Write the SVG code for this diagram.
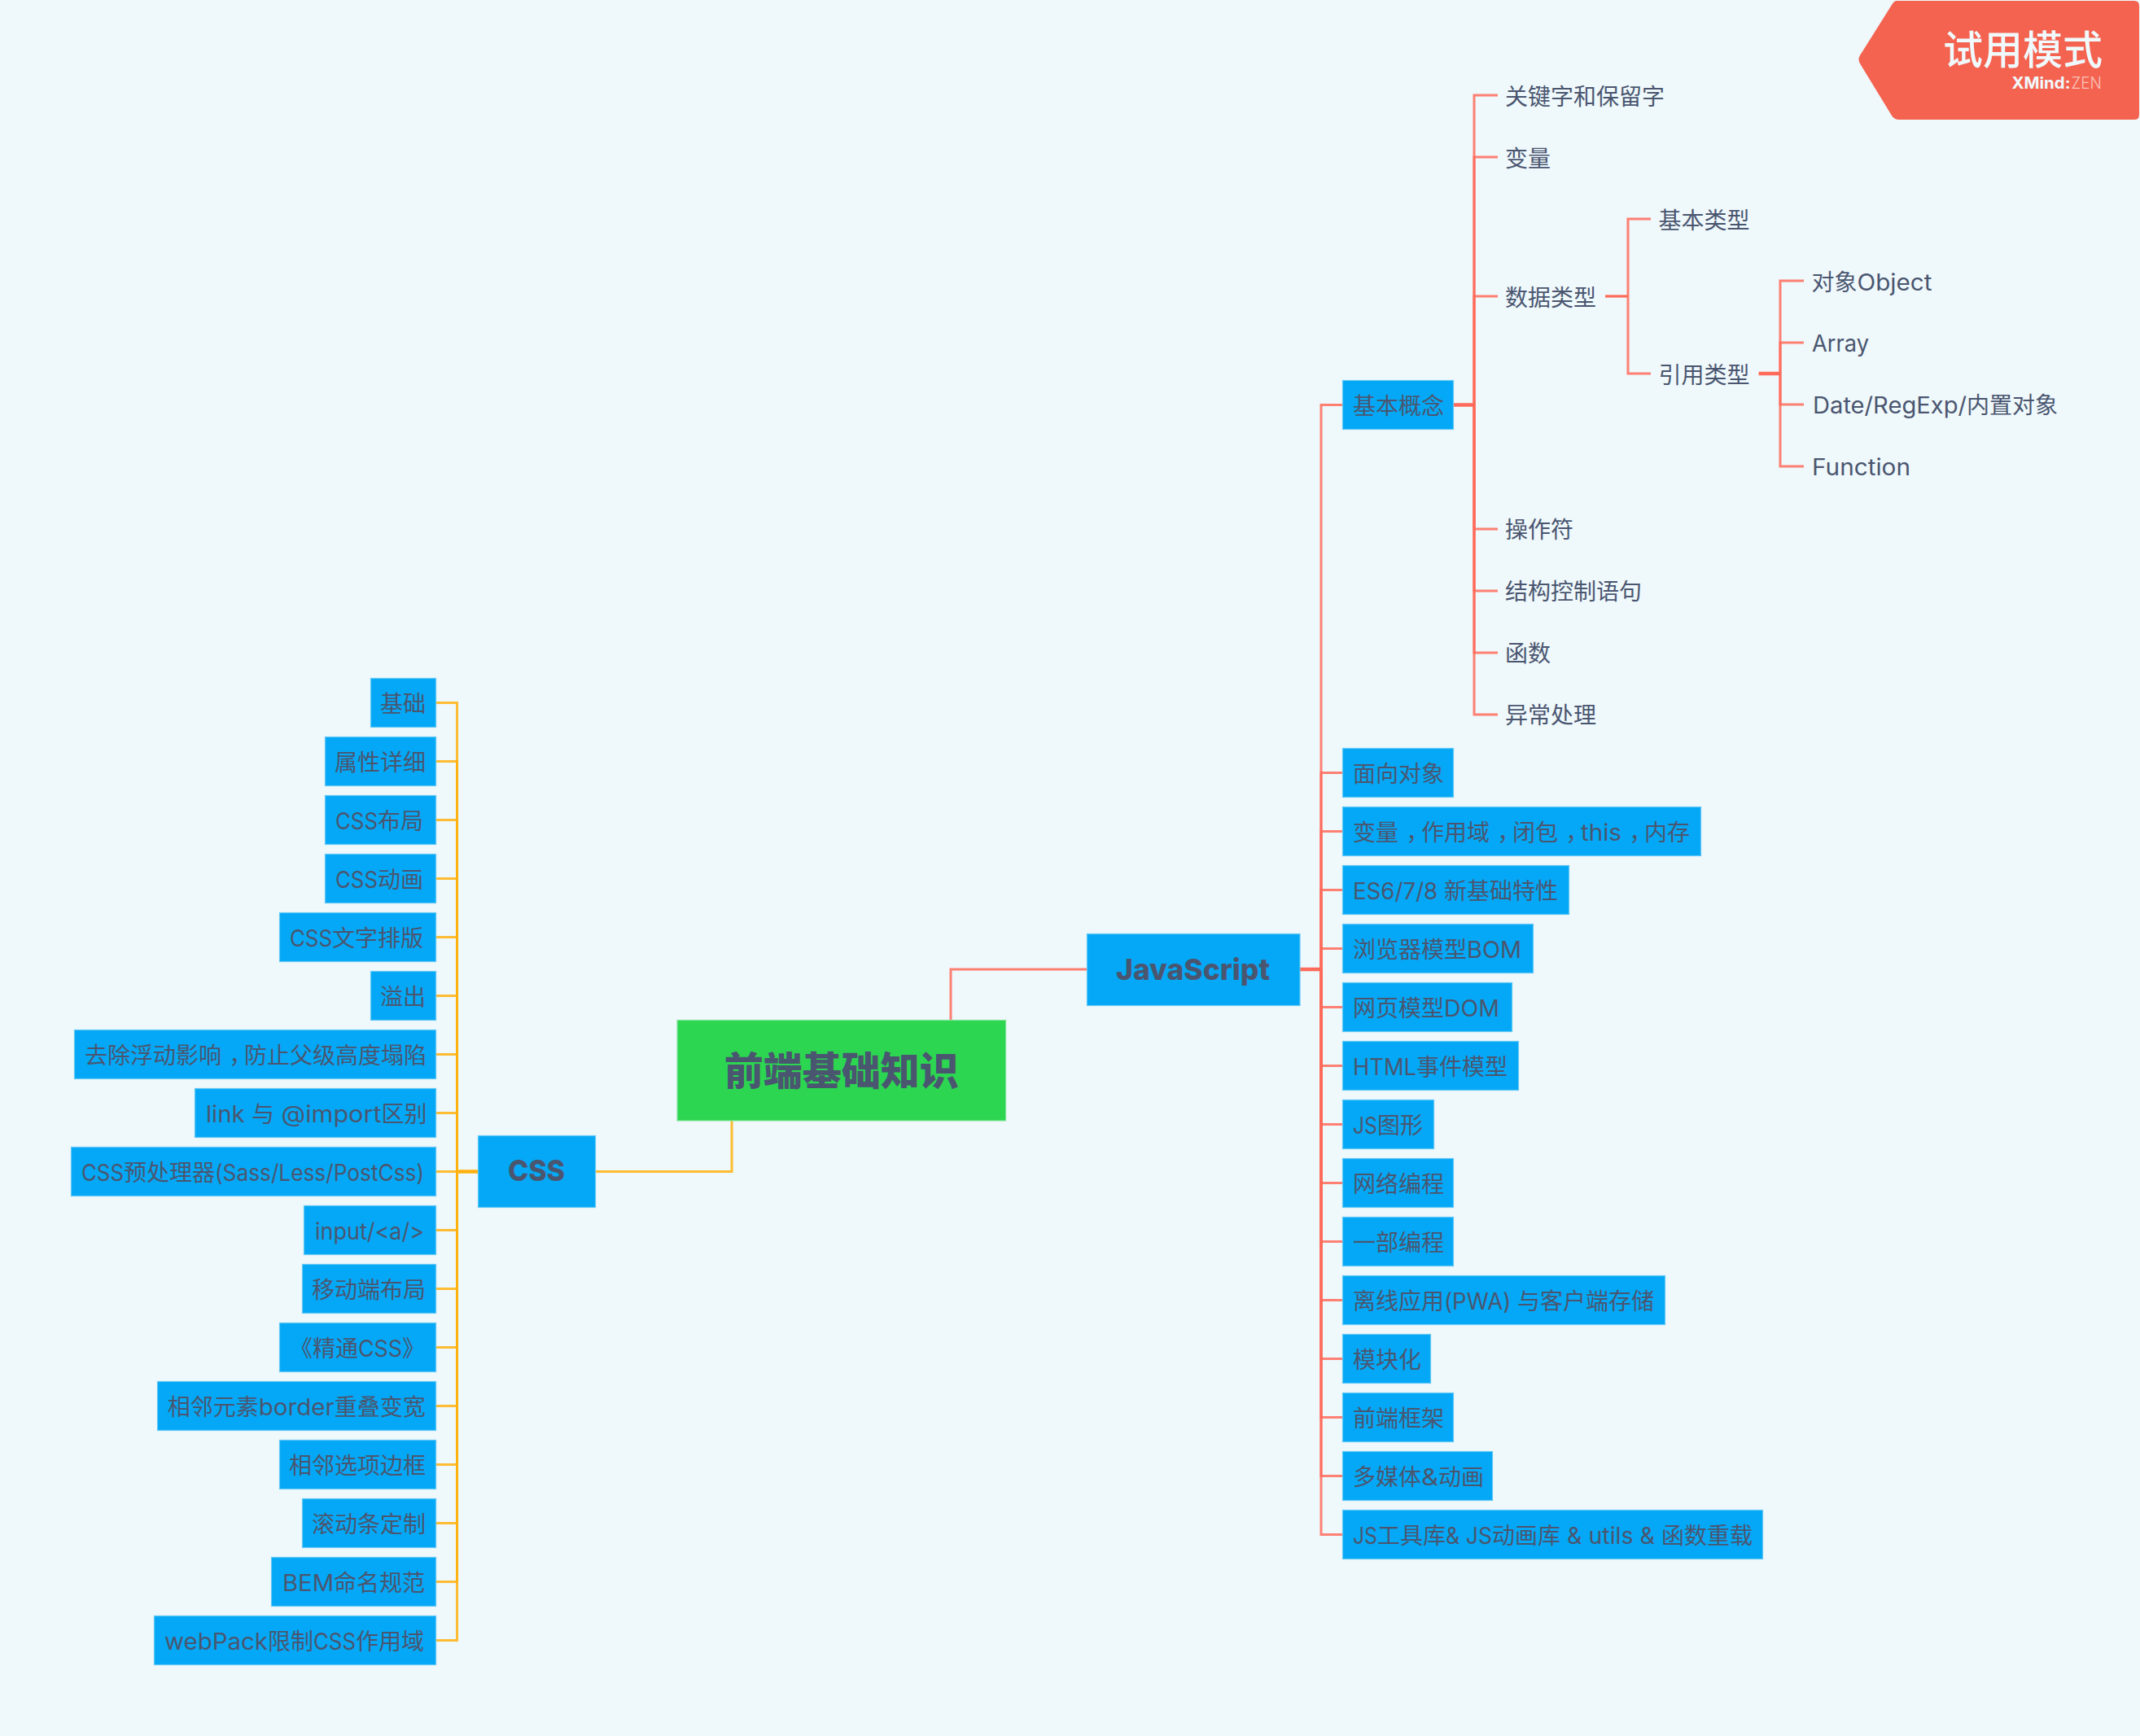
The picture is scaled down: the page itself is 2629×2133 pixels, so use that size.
<svg xmlns="http://www.w3.org/2000/svg" width="2629" height="2133" viewBox="0 0 2629 2133">
<style>
text{font-family:"Inter","Noto Sans CJK SC",sans-serif;font-size:28px;fill:#4a5670}
.e{text-anchor:end}
.p{font-feature-settings:"palt"}
.b{fill:#05a8f6;stroke:#62c8f6;stroke-width:1.2}
.r{fill:#2cd651;stroke:#84e49a;stroke-width:1.2}
.t{font-weight:800;font-size:36px}
.c{fill:none;stroke-width:3;stroke-opacity:.85}
.j{stroke:#ff6b5b}
.y{stroke:#ffb20f}
.k{fill:none;stroke-width:4.5}
.m{fill:none;stroke-width:3.2}
</style>
<rect width="2629" height="2133" fill="#eff8fb"/>
<g id="connectors">
<path class="c j" d="M1168 1253V1191H1335"/>
<path class="c y" d="M899 1377V1439.5H731.5"/>
<path class="k j" d="M1597 1191H1623"/>
<path class="k y" d="M587 1439.5H561.5"/>
<path class="k j" d="M1785.6 497.5H1811"/>
<path class="m j" d="M1972 364H2000"/>
<path class="k j" d="M2160.6 459H2187"/>
<g class="c j">
<path d="M1623 1191V497.5H1650"/>
<path d="M1623 1191V949.5H1649.4"/>
<path d="M1623 1191V1021.5H1649.4"/>
<path d="M1623 1191V1093.5H1649.4"/>
<path d="M1623 1191V1165.5H1649.4"/>
<path d="M1623 1191V1237.5H1649.4"/>
<path d="M1623 1191V1309.5H1649.4"/>
<path d="M1623 1191V1381.5H1649.4"/>
<path d="M1623 1191V1453.5H1649.4"/>
<path d="M1623 1191V1525.5H1649.4"/>
<path d="M1623 1191V1597.5H1649.4"/>
<path d="M1623 1191V1669.5H1649.4"/>
<path d="M1623 1191V1741.5H1649.4"/>
<path d="M1623 1191V1813.5H1649.4"/>
<path d="M1623 1191V1885.5H1649.4"/>
<path d="M1811 497.5V117H1840"/>
<path d="M1811 497.5V193H1840"/>
<path d="M1811 497.5V364H1840"/>
<path d="M1811 497.5V650H1840"/>
<path d="M1811 497.5V726H1840"/>
<path d="M1811 497.5V802H1840"/>
<path d="M1811 497.5V878H1840"/>
<path d="M2000 364V269H2028"/>
<path d="M2000 364V459H2028"/>
<path d="M2187 459V345H2216"/>
<path d="M2187 459V421H2216"/>
<path d="M2187 459V497H2216"/>
<path d="M2187 459V573H2216"/>
</g>
<g class="c y">
<path d="M561.5 1439.5V863.5H535.7"/>
<path d="M561.5 1439.5V935.5H535.7"/>
<path d="M561.5 1439.5V1007.5H535.7"/>
<path d="M561.5 1439.5V1079.5H535.7"/>
<path d="M561.5 1439.5V1151.5H535.7"/>
<path d="M561.5 1439.5V1223.5H535.7"/>
<path d="M561.5 1439.5V1295.5H535.7"/>
<path d="M561.5 1439.5V1367.5H535.7"/>
<path d="M561.5 1439.5H535.7"/>
<path d="M561.5 1439.5V1511.5H535.7"/>
<path d="M561.5 1439.5V1583.5H535.7"/>
<path d="M561.5 1439.5V1655.5H535.7"/>
<path d="M561.5 1439.5V1727.5H535.7"/>
<path d="M561.5 1439.5V1799.5H535.7"/>
<path d="M561.5 1439.5V1871.5H535.7"/>
<path d="M561.5 1439.5V1943.5H535.7"/>
<path d="M561.5 1439.5V2015.5H535.7"/>
</g>
</g>
<g id="root"><rect class="r" x="832" y="1253.5" width="403.6" height="123.5"/><text x="1033.8" y="1333" text-anchor="middle" style="font-size:48px;font-weight:900">前端基础知识</text></g>
<g id="js"><rect class="b" x="1335.5" y="1147.5" width="261.5" height="88"/><text class="t" x="1371" y="1204" textLength="189" lengthAdjust="spacingAndGlyphs">JavaScript</text></g>
<g id="css"><rect class="b" x="587.5" y="1395.5" width="144" height="88"/><text class="t" x="624" y="1451" textLength="70" lengthAdjust="spacingAndGlyphs">CSS</text></g>

<g id="j0"><rect class="b" x="1649.5" y="467.5" width="136" height="60"/><text x="1662" y="509">基本概念</text></g>
<g id="j1"><rect class="b" x="1649.5" y="919.5" width="136" height="60"/><text x="1662" y="961">面向对象</text></g>
<g id="j2"><rect class="b" x="1649.5" y="991.5" width="440" height="60"/><text x="1662" y="1033">变量<tspan class="p" x="1729">，</tspan><tspan x="1746">作用域</tspan><tspan class="p" x="1841">，</tspan><tspan x="1858">闭包</tspan><tspan class="p" x="1925">，</tspan><tspan x="1942" textLength="50" lengthAdjust="spacingAndGlyphs">this</tspan><tspan class="p" x="2003">，</tspan><tspan x="2020">内存</tspan></text></g>
<g id="j3"><rect class="b" x="1649.5" y="1063.5" width="278" height="60"/><text x="1662" y="1105"><tspan textLength="112" lengthAdjust="spacingAndGlyphs">ES6/7/8 </tspan><tspan x="1774">新基础特性</tspan></text></g>
<g id="j4"><rect class="b" x="1649.5" y="1135.5" width="234" height="60"/><text x="1662" y="1177">浏览器模型<tspan textLength="67" lengthAdjust="spacingAndGlyphs">BOM</tspan></text></g>
<g id="j5"><rect class="b" x="1649.5" y="1207.5" width="208" height="60"/><text x="1662" y="1249">网页模型<tspan textLength="68" lengthAdjust="spacingAndGlyphs">DOM</tspan></text></g>
<g id="j6"><rect class="b" x="1649.5" y="1279.5" width="216" height="60"/><text x="1662" y="1321"><tspan textLength="78" lengthAdjust="spacingAndGlyphs">HTML</tspan><tspan x="1740">事件模型</tspan></text></g>
<g id="j7"><rect class="b" x="1649.5" y="1351.5" width="112" height="60"/><text x="1662" y="1393"><tspan textLength="30" lengthAdjust="spacingAndGlyphs">JS</tspan><tspan x="1692">图形</tspan></text></g>
<g id="j8"><rect class="b" x="1649.5" y="1423.5" width="136" height="60"/><text x="1662" y="1465">网络编程</text></g>
<g id="j9"><rect class="b" x="1649.5" y="1495.5" width="136" height="60"/><text x="1662" y="1537">一部编程</text></g>
<g id="j10"><rect class="b" x="1649.5" y="1567.5" width="396" height="60"/><text x="1662" y="1609">离线应用<tspan textLength="90" lengthAdjust="spacingAndGlyphs">(PWA) </tspan><tspan x="1864">与客户端存储</tspan></text></g>
<g id="j11"><rect class="b" x="1649.5" y="1639.5" width="108" height="60"/><text x="1662" y="1681">模块化</text></g>
<g id="j12"><rect class="b" x="1649.5" y="1711.5" width="136" height="60"/><text x="1662" y="1753">前端框架</text></g>
<g id="j13"><rect class="b" x="1649.5" y="1783.5" width="184" height="60"/><text x="1662" y="1825">多媒体<tspan textLength="21" lengthAdjust="spacingAndGlyphs">&amp;</tspan><tspan x="1767">动画</tspan></text></g>
<g id="j14"><rect class="b" x="1649.5" y="1855.5" width="516" height="60"/><text x="1662" y="1897"><tspan textLength="30" lengthAdjust="spacingAndGlyphs">JS</tspan><tspan x="1692">工具库</tspan><tspan x="1776" textLength="57" lengthAdjust="spacingAndGlyphs">&amp; JS</tspan><tspan x="1833">动画库</tspan><tspan x="1917" textLength="124" lengthAdjust="spacingAndGlyphs"> &amp; utils &amp; </tspan><tspan x="2041">函数重载</tspan></text></g>

<g id="s0"><text x="1849" y="129">关键字和保留字</text></g>
<g id="s1"><text x="1849" y="205">变量</text></g>
<g id="s2"><text x="1849" y="376">数据类型</text></g>
<g id="s3"><text x="1849" y="661">操作符</text></g>
<g id="s4"><text x="1849" y="737">结构控制语句</text></g>
<g id="s5"><text x="1849" y="813">函数</text></g>
<g id="s6"><text x="1849" y="889">异常处理</text></g>
<g id="s7"><text x="2037.5" y="281">基本类型</text></g>
<g id="s8"><text x="2037.5" y="471">引用类型</text></g>
<g id="s9"><text x="2225.5" y="357">对象<tspan textLength="92" lengthAdjust="spacingAndGlyphs">Object</tspan></text></g>
<g id="s10"><text x="2226" y="432" textLength="70" lengthAdjust="spacingAndGlyphs">Array</text></g>
<g id="s11"><text x="2227" y="508"><tspan textLength="189" lengthAdjust="spacingAndGlyphs">Date/RegExp/</tspan><tspan x="2416">内置对象</tspan></text></g>
<g id="s12"><text x="2226" y="584" textLength="121" lengthAdjust="spacingAndGlyphs">Function</text></g>

<g id="c0"><rect class="b" x="455.5" y="833.5" width="80" height="60"/><text class="e" x="523" y="875">基础</text></g>
<g id="c1"><rect class="b" x="399.5" y="905.5" width="136" height="60"/><text class="e" x="523" y="947">属性详细</text></g>
<g id="c2"><rect class="b" x="399.5" y="977.5" width="136" height="60"/><text x="412" y="1019"><tspan textLength="52" lengthAdjust="spacingAndGlyphs">CSS</tspan><tspan x="464">布局</tspan></text></g>
<g id="c3"><rect class="b" x="399.5" y="1049.5" width="136" height="60"/><text x="412" y="1091"><tspan textLength="52" lengthAdjust="spacingAndGlyphs">CSS</tspan><tspan x="464">动画</tspan></text></g>
<g id="c4"><rect class="b" x="343.5" y="1121.5" width="192" height="60"/><text x="356" y="1163"><tspan textLength="52" lengthAdjust="spacingAndGlyphs">CSS</tspan><tspan x="408">文字排版</tspan></text></g>
<g id="c5"><rect class="b" x="455.5" y="1193.5" width="80" height="60"/><text class="e" x="523" y="1235">溢出</text></g>
<g id="c6"><rect class="b" x="91.5" y="1265.5" width="444" height="60"/><text x="104" y="1307">去除浮动影响<tspan class="p" x="283">，</tspan><tspan x="300">防止父级高度塌陷</tspan></text></g>
<g id="c7"><rect class="b" x="239.5" y="1337.5" width="296" height="60"/><text x="253" y="1379"><tspan textLength="56" lengthAdjust="spacingAndGlyphs">link </tspan><tspan x="309">与</tspan><tspan x="337" textLength="131.5" lengthAdjust="spacingAndGlyphs"> @import</tspan><tspan x="468.5">区别</tspan></text></g>
<g id="c8"><rect class="b" x="87.5" y="1409.5" width="448" height="60"/><text x="100" y="1451"><tspan textLength="52" lengthAdjust="spacingAndGlyphs">CSS</tspan><tspan x="152">预处理器</tspan><tspan x="264" textLength="257" lengthAdjust="spacingAndGlyphs">(Sass/Less/PostCss)</tspan></text></g>
<g id="c9"><rect class="b" x="373.5" y="1481.5" width="162" height="60"/><text x="387" y="1523" textLength="134" lengthAdjust="spacingAndGlyphs">input/&lt;a/&gt;</text></g>
<g id="c10"><rect class="b" x="371.5" y="1553.5" width="164" height="60"/><text class="e" x="523" y="1595">移动端布局</text></g>
<g id="c11"><rect class="b" x="343.5" y="1625.5" width="192" height="60"/><text x="356" y="1667">《精通<tspan textLength="54" lengthAdjust="spacingAndGlyphs">CSS</tspan><tspan x="494">》</tspan></text></g>
<g id="c12"><rect class="b" x="193.5" y="1697.5" width="342" height="60"/><text x="205.7" y="1739">相邻元素<tspan textLength="93" lengthAdjust="spacingAndGlyphs">border</tspan><tspan x="410.7">重叠变宽</tspan></text></g>
<g id="c13"><rect class="b" x="343.5" y="1769.5" width="192" height="60"/><text class="e" x="523" y="1811">相邻选项边框</text></g>
<g id="c14"><rect class="b" x="371.5" y="1841.5" width="164" height="60"/><text class="e" x="523" y="1883">滚动条定制</text></g>
<g id="c15"><rect class="b" x="333.5" y="1913.5" width="202" height="60"/><text x="347" y="1955"><tspan textLength="63" lengthAdjust="spacingAndGlyphs">BEM</tspan><tspan x="410">命名规范</tspan></text></g>
<g id="c16"><rect class="b" x="189.5" y="1985.5" width="346" height="60"/><text x="202" y="2027"><tspan textLength="127" lengthAdjust="spacingAndGlyphs">webPack</tspan><tspan x="329">限制</tspan><tspan x="385" textLength="52" lengthAdjust="spacingAndGlyphs">CSS</tspan><tspan x="437">作用域</tspan></text></g>

<g id="badge">
<path d="M2330 1H2622Q2628 1 2628 7V141Q2628 147 2622 147H2333Q2327 147 2324 142L2285 78Q2282 73 2285 68L2324 6Q2327 1 2330 1Z" fill="#f46350"/>
<text class="e" x="2583" y="79" style="font-size:49px;fill:#f0f9fc;font-weight:500">试用模式</text>
<text x="2471.5" y="109" style="font-size:20px;fill:#f0f9fc;font-weight:700"><tspan textLength="72" lengthAdjust="spacingAndGlyphs">XMind:</tspan><tspan x="2544.5" textLength="37.5" lengthAdjust="spacingAndGlyphs" style="font-weight:300;fill:#fbc4bb">ZEN</tspan></text>
</g>
</svg>
